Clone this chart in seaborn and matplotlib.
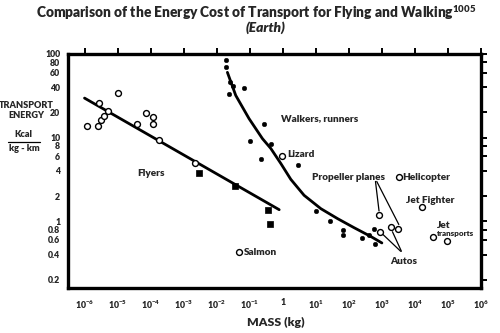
import numpy as np
import pandas as pd
import matplotlib
matplotlib.use("Agg")
import matplotlib.pyplot as plt
import seaborn as sns

sns.set_theme(style="white")
plt.rcParams["font.family"] = ["Lato", "DejaVu Sans"]
plt.rcParams["font.weight"] = "heavy"
plt.rcParams["mathtext.fontset"] = "custom"
plt.rcParams["mathtext.rm"] = "Lato:heavy"
plt.rcParams["mathtext.bf"] = "Lato:heavy"
plt.rcParams["mathtext.it"] = "Lato:heavy:italic"

W = "heavy"

# ---- data (mass in kg, transport energy in kcal per kg-km) ----
flyer_mass = [1.15e-6, 2.5e-6, 2.8e-6, 3.2e-6, 4.0e-6, 5.1e-6, 1.0e-5, 3.8e-5,
              7.2e-5, 1.15e-4, 1.15e-4, 1.8e-4, 2.2e-3]
flyer_energy = [13.6, 13.6, 26, 16.4, 18.3, 20.8, 34, 14.7, 19.7, 17.5, 14.4, 9.5, 5.0]

flyer_sq_mass = [3.0e-3, 0.037, 0.35, 0.42]
flyer_sq_energy = [3.8, 2.67, 1.38, 0.93]

flyer_fit_mass = [1.0e-6, 0.78]
flyer_fit_energy = [29.7, 1.38]

walker_mass = [0.0195, 0.019, 0.026, 0.031, 0.024, 0.068, 0.103, 0.27, 0.44, 0.22,
               2.8, 10, 27, 68, 68, 245, 420, 590, 620]
walker_energy = [85, 70.5, 46, 41, 33, 38.8, 9.2, 14.7, 8.4, 5.5,
                 4.76, 1.33, 1.0, 0.78, 0.69, 0.63, 0.69, 0.82, 0.53]

walker_fit_mass = [0.0211, 0.0377, 0.0953, 0.243, 0.433, 0.87, 1.75, 4.42,
                   14.2, 45.5, 145, 464, 1000]
walker_fit_energy = [60.3, 32.0, 16.9, 9.73, 7.45, 4.93, 3.18, 2.05,
                     1.42, 1.08, 0.84, 0.66, 0.553]

other_names = ["Lizard", "Salmon", "Propeller", "Propeller", "Auto", "Auto",
               "Helicopter", "Jet Fighter", "Jet transport", "Jet transport"]
other_mass = [0.95, 0.048, 820, 3100, 850, 1900, 3200, 1.6e4, 3.6e4, 9.5e4]
other_energy = [6.0, 0.426, 1.18, 0.82, 0.75, 0.855, 3.35, 1.47, 0.66, 0.58]

y_ticks = [100, 80, 60, 40, 20, 10, 8, 6, 4, 2, 1, 0.8, 0.6, 0.4, 0.2]
y_tick_labels = ["100", "80", "60", "40", "20", "10", "8", "6", "4", "2",
                 "1", "0.8", "0.6", "0.4", "0.2"]
x_exponents = [-6, -5, -4, -3, -2, -1, 0, 1, 2, 3, 4, 5, 6]

fly = pd.DataFrame({"mass": flyer_mass, "energy": flyer_energy})
fly_sq = pd.DataFrame({"mass": flyer_sq_mass, "energy": flyer_sq_energy})
walk = pd.DataFrame({"mass": walker_mass, "energy": walker_energy})
other = pd.DataFrame({"name": other_names, "mass": other_mass, "energy": other_energy})
fly_fit = pd.DataFrame({"mass": flyer_fit_mass, "energy": flyer_fit_energy})
walk_fit = pd.DataFrame({"mass": walker_fit_mass, "energy": walker_fit_energy})

fig = plt.figure(figsize=(5.0, 3.33), dpi=100)
ax = fig.add_axes([0.136, 0.135, 0.826, 0.703])
ax.set_xscale("log")
ax.set_yscale("log")

# trend lines
sns.lineplot(data=fly_fit, x="mass", y="energy", ax=ax, color="black", lw=2.0,
             sort=False, estimator=None)
sns.lineplot(data=walk_fit, x="mass", y="energy", ax=ax, color="black", lw=2.0,
             sort=False, estimator=None)
for ln in ax.lines:
    ln.set_solid_joinstyle("round")

# points
sns.scatterplot(data=fly, x="mass", y="energy", ax=ax, marker="o", s=18,
                facecolor="white", edgecolor="black", linewidth=1.0, zorder=3)
sns.scatterplot(data=fly_sq, x="mass", y="energy", ax=ax, marker="s", s=18,
                color="black", edgecolor="black", linewidth=0.5, zorder=3)
sns.scatterplot(data=walk, x="mass", y="energy", ax=ax, marker="o", s=11,
                color="black", edgecolor="black", linewidth=0.3, zorder=3)
sns.scatterplot(data=other, x="mass", y="energy", ax=ax, marker="o", s=18,
                facecolor="white", edgecolor="black", linewidth=1.0, zorder=3)

# pointer lines for the grouped labels
def pointer(xy_text, xy_point):
    ax.plot([xy_text[0], xy_point[0]], [xy_text[1], xy_point[1]],
            color="black", lw=0.9, zorder=2)

pointer((640, 3.0), (other_mass[2], other_energy[2] * 1.13))
pointer((700, 3.0), (other_mass[3] * 1.05, other_energy[3] * 1.12))
pointer((3700, 0.44), (other_mass[4] * 1.2, other_energy[4] * 0.95))
pointer((3900, 0.44), (other_mass[5] * 1.1, other_energy[5] * 0.88))

fs = 7.2
ax.text(1.0e-4, 3.75, "Flyers", fontsize=fs, fontweight=W, ha="center", va="center")
ax.text(0.87, 17.0, "Walkers, runners", fontsize=fs, fontweight=W, ha="left", va="center")
ax.text(1.38, 6.3, "Lizard", fontsize=fs, fontweight=W, ha="left", va="center")
ax.text(0.066, 0.426, "Salmon", fontsize=fs, fontweight=W, ha="left", va="center")
ax.text(100, 3.33, "Propeller planes", fontsize=fs, fontweight=W, ha="center", va="center")
ax.text(4250, 3.35, "Helicopter", fontsize=fs, fontweight=W, ha="left", va="center")
ax.text(3.0e4, 1.8, "Jet Fighter", fontsize=fs, fontweight=W, ha="center", va="center")
ax.text(4700, 0.336, "Autos", fontsize=fs, fontweight=W, ha="center", va="center")
ax.text(7.5e4, 0.9, "Jet", fontsize=fs, fontweight=W, ha="center", va="center")
ax.text(4.6e4, 0.72, "transports", fontsize=5.8, fontweight=W, ha="left", va="center")

ax.set_xlim(10 ** -6.5, 1e6)
ax.set_ylim(0.16, 100)

ax.set_xticks([10.0 ** e for e in x_exponents])
ax.set_xticklabels(["1" if e == 0 else r"$\mathbf{10^{%d}}$" % e for e in x_exponents])
ax.xaxis.set_minor_locator(matplotlib.ticker.NullLocator())
ax.set_yticks(y_ticks)
ax.set_yticklabels(y_tick_labels)
ax.yaxis.set_minor_locator(matplotlib.ticker.NullLocator())

ax.tick_params(axis="both", which="major", direction="out", length=4, width=1.4,
               color="black", labelsize=6.3, pad=1.5)
ax.tick_params(axis="x", pad=3.5)
ax.tick_params(top=True, right=True, labeltop=False, labelright=False)
for lab in ax.get_xticklabels() + ax.get_yticklabels():
    lab.set_fontweight(W)

for sp in ax.spines.values():
    sp.set_visible(True)
    sp.set_color("black")
    sp.set_linewidth(2.4)

ax.set_xlabel("")
ax.set_ylabel("")

fig.text(0.512, 0.962, r"Comparison of the Energy Cost of Transport for Flying and Walking$^{\mathbf{1005}}$",
         fontsize=9.9, fontweight=W, ha="center", va="center")
fig.text(0.532, 0.916, "(Earth)", fontsize=9.9, fontweight=W, style="italic",
         ha="center", va="center")

fig.text(0.552, 0.033, "MASS (kg)", fontsize=8.8, fontweight=W, ha="center", va="center")

fig.text(0.052, 0.682, "TRANSPORT", fontsize=6.6, fontweight=W, ha="center", va="center")
fig.text(0.052, 0.652, "ENERGY", fontsize=6.6, fontweight=W, ha="center", va="center")
fig.text(0.047, 0.595, "Kcal", fontsize=6.6, fontweight=W, ha="center", va="center")
fig.add_artist(matplotlib.lines.Line2D([0.016, 0.080], [0.574, 0.574], color="black", lw=0.9))
fig.text(0.048, 0.553, "kg - km", fontsize=6.6, fontweight=W, ha="center", va="center")

fig.savefig("out.png", dpi=100, facecolor="white")
